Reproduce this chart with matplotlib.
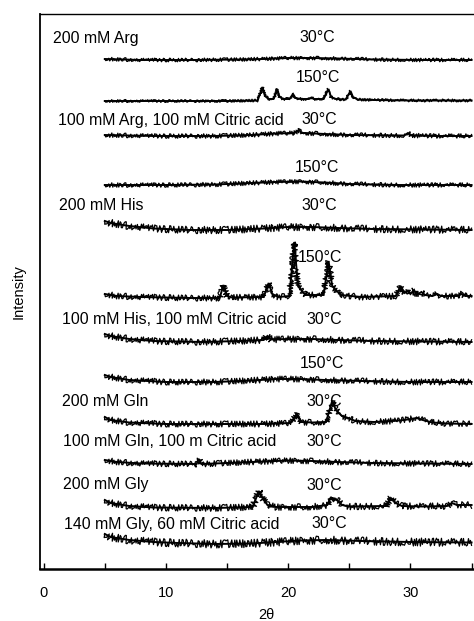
import matplotlib
matplotlib.use("Agg")
import matplotlib.pyplot as plt

plt.rcParams["font.family"] = ["Liberation Sans", "DejaVu Sans"]

# x axis (2 theta)
major_ticks = [0, 10, 20, 30]
minor_ticks = [5, 15, 25, 35]

# sample names and temperatures, top to bottom ("" = no name on that row)
names = ["200 mM Arg", "", "100 mM Arg, 100 mM Citric acid", "",
         "200 mM His", "", "100 mM His, 100 mM Citric acid", "",
         "200 mM Gln", "100 mM Gln, 100 m Citric acid",
         "200 mM Gly", "140 mM Gly, 60 mM Citric acid"]
temps = ["30°C", "150°C", "30°C", "150°C", "30°C", "150°C",
         "30°C", "150°C", "30°C", "30°C", "30°C", "30°C"]

# patterns: 2theta vs intensity above own baseline
arg_30_x = [5, 8, 12, 16, 18, 20, 22, 24, 27, 31, 35]
arg_30_y = [1, 0, 0, 0.5, 1, 2, 2, 1.5, 0.5, 0, 0]

arg_150_x = [5, 10, 15, 17.5, 17.9, 18.1, 18.4, 18.8, 19.1, 19.3, 19.6, 20.1,
             20.4, 20.6, 21.0, 21.7, 21.9, 22.1, 22.9, 23.3, 23.5, 23.9, 24.7,
             25.1, 25.3, 25.7, 27, 30, 35]
arg_150_y = [0, 0, 0, 0.5, 14, 5, 2, 2, 12, 4, 2, 2,
             7, 3, 2, 2, 3.5, 2, 2, 12, 4, 2, 1.5,
             10, 4, 1.5, 1, 0.5, 0.5]

argca_30_x = [5, 9, 14, 17, 19, 20.5, 20.9, 21.1, 21.4, 23, 25, 29.5, 29.8, 30.1, 32, 35]
argca_30_y = [1, 0, 0, 1, 2.5, 3, 6, 3, 3, 2, 1, 0.5, 3, 0.5, 0, 0]

argca_150_x = [5, 10, 14, 17, 19, 21, 23, 25, 29, 35]
argca_150_y = [0, 0, 0.5, 2, 3, 3.5, 2.5, 1, 0, 0]

his_30_x = [5, 5.5, 7, 9, 12, 15, 18, 20, 22, 24, 27, 31, 35]
his_30_y = [9, 7, 4, 1.5, 0, 0, 1.5, 3, 3, 2, 1, 0.5, 0]

his_150_x = [5, 6, 8, 12, 14.4, 14.7, 15.0, 15.4, 18.0, 18.4, 18.7, 19.2,
             20.1, 20.5, 20.8, 21.4, 22.9, 23.3, 23.6, 24.3, 26, 28.8, 29.2,
             29.5, 29.8, 30.0, 30.3, 30.5, 30.9, 31.2, 31.8, 32.2, 32.5, 33.8,
             34.2, 34.5, 35]
his_150_y = [4, 2, 1, 0, 0, 13, 2, 0.5, 1, 15, 4, 1,
             2, 56, 12, 3, 3, 37, 12, 3, 1, 2, 12,
             5, 7, 4, 8, 3, 6, 3, 2, 4, 2, 2,
             4, 2, 2]

hisca_30_x = [5, 5.5, 7, 9, 13, 16, 18, 18.3, 18.6, 20, 22, 24, 27, 31, 35]
hisca_30_y = [8, 6, 3, 1, 0, 1, 2, 6, 2.5, 3, 3, 2, 1, 0.5, 0]

hisca_150_x = [5, 5.5, 7, 10, 14, 17, 19, 21, 23, 26, 30, 35]
hisca_150_y = [7, 5, 2, 0, 0, 1.5, 3, 3, 2, 1, 0, 0]

gln_30_x = [5, 5.5, 7, 10, 14, 18, 20.2, 20.7, 21.1, 22, 23.1, 23.6, 23.9,
            24.4, 24.9, 25.5, 27, 28.5, 29.5, 30.5, 31, 31.8, 33, 35]
gln_30_y = [7, 4, 1.5, 0, 0, 0, 1, 10, 2, 1.5, 2, 23, 14,
            8, 6, 3, 2, 3, 4, 6, 4, 1.5, 0.5, 0]

glnca_30_x = [5, 6, 8, 12.5, 12.7, 12.9, 15, 18, 20, 22, 24, 27, 31, 35]
glnca_30_y = [4, 2, 0.5, 0, 5, 0, 1, 2.5, 3.5, 3, 2, 1, 0.5, 0]

gly_30_x = [5, 5.5, 7, 9, 14, 17.1, 17.6, 17.9, 18.3, 19, 22, 23.2, 23.5, 23.7,
            23.9, 24.4, 25, 28.0, 28.4, 28.8, 29.3, 31, 33.0, 33.4, 33.8, 35]
gly_30_y = [8, 5, 2, 0.5, 0, 1, 17, 10, 3, 1, 1, 3, 11, 7,
            9, 3, 1.5, 2, 10, 5, 2, 1.5, 2, 5, 3, 3]

glyca_30_x = [5, 5.5, 7, 9, 11, 14, 17, 19, 21, 23, 26, 30, 35]
glyca_30_y = [10, 7, 4, 2, 1, 0, 0.5, 2, 3.5, 4, 3, 2, 1.5]

traces = [(arg_30_x, arg_30_y), (arg_150_x, arg_150_y),
          (argca_30_x, argca_30_y), (argca_150_x, argca_150_y),
          (his_30_x, his_30_y), (his_150_x, his_150_y),
          (hisca_30_x, hisca_30_y), (hisca_150_x, hisca_150_y),
          (gln_30_x, gln_30_y), (glnca_30_x, glnca_30_y),
          (gly_30_x, gly_30_y), (glyca_30_x, glyca_30_y)]

# layout: vertical offsets of each pattern, label positions, noise amount
offsets = [509, 468, 433, 384, 339, 271, 227, 187, 145, 105, 61, 25]
name_x = [0.75, None, 1.15, None, 1.25, None, 1.5, None, 1.5, 1.58, 1.58, 1.66]
name_y = [531, None, 449, None, 363, None, 249, None, 168, 127, 84, 45]
temp_x = [20.95, 20.6, 21.1, 20.55, 21.1, 20.8, 21.5, 20.95, 21.5, 21.5, 21.5, 21.9]
temp_y = [531, 492, 449, 402, 363, 312, 249, 206, 168, 127, 84, 45]
noise = [1.8, 1.4, 2.2, 2.2, 3.6, 3.0, 3.3, 3.0, 3.0, 2.9, 3.3, 4.0]

fig = plt.figure(figsize=(4.74, 6.21), dpi=100)
ax = fig.add_axes([40 / 474, 52 / 621, 434 / 474, 555 / 621])

for (xs, ys), off, nz in zip(traces, offsets, noise):
    ys_off = [v + off for v in ys]
    # solid core of the scan line
    ax.plot(xs, ys_off, color="black", linewidth=1.4, solid_joinstyle="miter")
    # jagged counting noise around it
    fuzz, = ax.plot(xs, ys_off, color="black", linewidth=0.9)
    fuzz.set_sketch_params(scale=nz, length=2, randomness=3)

for i in range(len(names)):
    if names[i]:
        ax.text(name_x[i], name_y[i], names[i], fontsize=11.4, ha="left", va="center")
    ax.text(temp_x[i], temp_y[i], temps[i], fontsize=11.4, ha="left", va="center")

ax.set_xlim(-0.3, 35.2)
ax.set_ylim(0, 555)
ax.set_xticks(major_ticks)
ax.set_xticks(minor_ticks, minor=True)
ax.set_yticks([])
ax.tick_params(axis="x", which="both", direction="in", length=4, width=1,
               labelsize=10.5, pad=12)
ax.spines["right"].set_visible(False)
ax.spines["bottom"].set_linewidth(1.8)
ax.spines["left"].set_linewidth(1.3)
ax.spines["top"].set_linewidth(1.0)

fig.text(266 / 474, 1 - 615 / 621, "2θ", fontsize=10.5, ha="center", va="center")
fig.text(19 / 474, 1 - 292 / 621, "Intensity", fontsize=10.5, rotation=90,
         ha="center", va="center")

fig.savefig("out.png", dpi=100)
